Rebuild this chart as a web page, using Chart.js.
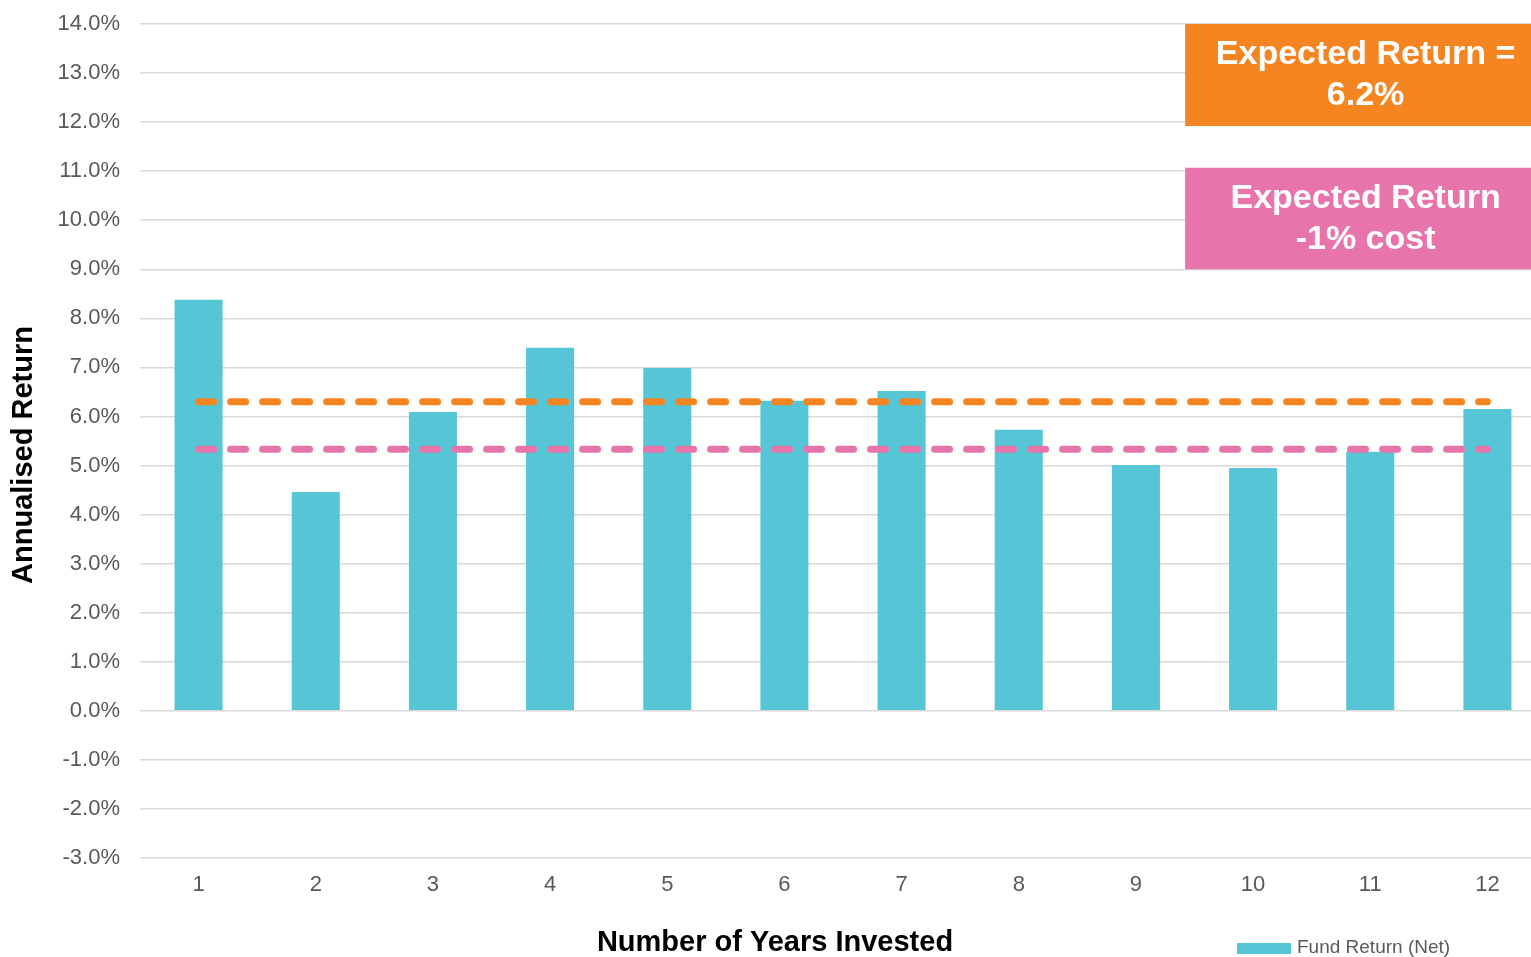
<!DOCTYPE html>
<html>
<head>
<meta charset="utf-8">
<script src="https://cdn.jsdelivr.net/npm/chart.js@4"></script>
<style>
  html, body { margin: 0; padding: 0; overflow: hidden; background: #fff; }
  canvas { display: block; }
</style>
</head>
<body>
<canvas id="myChart" width="1546" height="957"></canvas>
<script>
  const years = ['1', '2', '3', '4', '5', '6', '7', '8', '9', '10', '11', '12'];
  const fundReturn = [8.38, 4.46, 6.09, 7.40, 6.99, 6.32, 6.52, 5.73, 5.01, 4.95, 5.28, 6.15];
  const expectedReturn = [6.3, 6.3, 6.3, 6.3, 6.3, 6.3, 6.3, 6.3, 6.3, 6.3, 6.3, 6.3];
  const expectedLessCost = [5.33, 5.33, 5.33, 5.33, 5.33, 5.33, 5.33, 5.33, 5.33, 5.33, 5.33, 5.33];

  const FONT = '"Liberation Sans", Arial, sans-serif';

  // boxes, titles and legend drawn on top of the chart
  const extras = {
    id: 'extras',
    afterDraw(chart) {
      const ctx = chart.ctx;
      const x = chart.scales.x, y = chart.scales.y;
      const boxLeft = x.getPixelForValue(8.42);
      const boxRight = chart.width;
      const cx = (boxLeft + boxRight) / 2;

      function box(top, bottom, color, lines) {
        const t = y.getPixelForValue(top), b = y.getPixelForValue(bottom);
        ctx.save();
        ctx.fillStyle = color;
        ctx.fillRect(boxLeft, t, boxRight - boxLeft, b - t);
        ctx.fillStyle = '#fff';
        ctx.font = 'bold 34px ' + FONT;
        ctx.textAlign = 'center';
        ctx.textBaseline = 'middle';
        const mid = (t + b) / 2;
        ctx.fillText(lines[0], cx, mid - 20);
        ctx.fillText(lines[1], cx, mid + 21);
        ctx.restore();
      }
      box(14.0, 11.92, '#F58520', ['Expected Return =', '6.2%']);
      box(11.07, 9.0, '#E874AC', ['Expected Return', '-1% cost']);

      ctx.save();
      ctx.fillStyle = '#000';
      ctx.font = 'bold 29px ' + FONT;
      ctx.textAlign = 'center';
      ctx.textBaseline = 'middle';
      ctx.fillText('Number of Years Invested', 775, 943);
      ctx.translate(24, 455);
      ctx.rotate(-Math.PI / 2);
      ctx.fillText('Annualised Return', 0, 0);
      ctx.restore();

      // legend (bar only)
      const ds = chart.data.datasets[0];
      ctx.save();
      ctx.fillStyle = ds.backgroundColor;
      ctx.fillRect(1237, 943, 54, 11);
      ctx.fillStyle = '#595959';
      ctx.font = '19px ' + FONT;
      ctx.textAlign = 'left';
      ctx.textBaseline = 'middle';
      ctx.fillText(ds.label, 1297, 948);
      ctx.restore();
    }
  };

  const data = {
    labels: years,
    datasets: [
      {
        type: 'bar',
        label: 'Fund Return (Net)',
        data: fundReturn,
        backgroundColor: '#56C5D5',
        categoryPercentage: 1,
        barPercentage: 0.41,
        order: 2
      },
      {
        type: 'line',
        label: 'Expected Return',
        data: expectedReturn,
        borderColor: '#F58520',
        borderWidth: 7,
        borderDash: [15, 17],
        borderCapStyle: 'round',
        pointRadius: 0,
        fill: false,
        order: 1
      },
      {
        type: 'line',
        label: 'Expected Return -1% cost',
        data: expectedLessCost,
        borderColor: '#E874AC',
        borderWidth: 7,
        borderDash: [15, 17],
        borderCapStyle: 'round',
        pointRadius: 0,
        fill: false,
        order: 1
      }
    ]
  };

  const config = {
    type: 'bar',
    data: data,
    plugins: [extras],
    options: {
      responsive: false,
      animation: false,
      layout: { padding: { top: 24, right: 0, bottom: 0, left: 0 } },
      plugins: {
        legend: { display: false },
        tooltip: { enabled: false }
      },
      scales: {
        x: {
          grid: { display: false, drawTicks: false },
          border: { display: false },
          ticks: { color: '#595959', font: { family: FONT, size: 22 }, padding: 14 },
          afterFit: s => { s.height = 99; s.paddingLeft = 0; s.paddingRight = 0; }
        },
        y: {
          min: -3,
          max: 14,
          grid: { color: '#D9D9D9', lineWidth: 1.5, drawTicks: false },
          border: { display: false },
          ticks: {
            stepSize: 1,
            color: '#595959',
            font: { family: FONT, size: 22 },
            padding: 20,
            callback: v => v.toFixed(1) + '%'
          },
          afterFit: s => { s.width = 140; s.paddingTop = 0; s.paddingBottom = 0; }
        }
      }
    }
  };

  const myChart = new Chart(document.getElementById('myChart'), config);
</script>
</body>
</html>
